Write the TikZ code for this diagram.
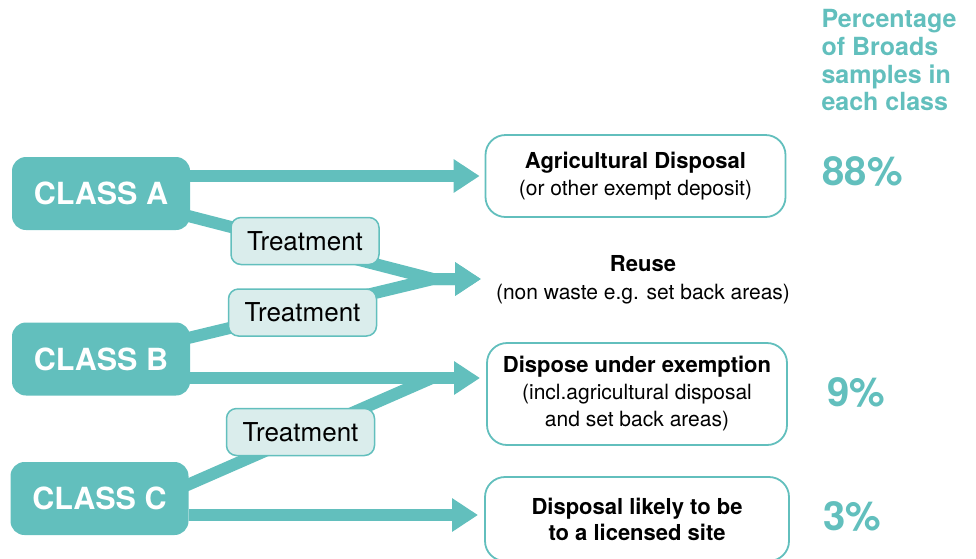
\documentclass[tikz,border=0pt]{standalone}
\usepackage{fontspec}
\setmainfont{TeX Gyre Heros}
\usepackage{xcolor}
\usepackage{tikz}
\usetikzlibrary{arrows.meta}
\usetikzlibrary{calc}
\pgfdeclarelayer{edgelayer}
\pgfdeclarelayer{nodelayer}
\pgfsetlayers{edgelayer,nodelayer,main}
\definecolor{broadsteal}{RGB}{98,191,189}
\definecolor{broadspale}{RGB}{218,237,236}
\newcommand{\bigbold}[1]{{\fontsize{22}{27}\selectfont\bfseries #1}}
\tikzstyle{cls}=[shape=rectangle,rounded corners=14pt,fill=broadsteal,text=white,minimum width=178pt,minimum height=73pt,font=\fontsize{30.5}{34}\selectfont\bfseries]
\tikzstyle{treat}=[shape=rectangle,rounded corners=10pt,draw=broadsteal,line width=1.5pt,fill=broadspale,minimum width=148pt,minimum height=47pt,font=\fontsize{26}{30}\selectfont]
\tikzstyle{dest}=[shape=rectangle,rounded corners=20pt,draw=broadsteal,line width=1.8pt,fill=white,minimum width=300pt,align=center,font=\fontsize{21}{27}\selectfont]
\tikzstyle{plain}=[align=center,font=\fontsize{21}{28}\selectfont]
\tikzstyle{pct}=[anchor=west,text=broadsteal,font=\fontsize{40}{42}\selectfont\bfseries]
\tikzstyle{head}=[anchor=north west,align=left,text=broadsteal,font=\fontsize{25}{27.7}\selectfont\bfseries]
\tikzstyle{flow}=[draw=broadsteal,line width=12pt]
\tikzstyle{flowarrow}=[flow,-{Triangle[length=26pt,width=32pt]}]

\begin{document}
\begin{tikzpicture}[x=1pt,y=-1pt]
	\useasboundingbox (0,0) rectangle (976,558);
	\begin{pgfonlayer}{nodelayer}
		\node [style=cls] (clsA) at (101, 193.5) {CLASS A};
		\node [style=cls] (clsB) at (101, 359) {CLASS B};
		\node [style=cls] (clsC) at (99.5, 498.5) {CLASS C};
		\node [style=treat] (trtA) at (305, 241) {Treatment};
		\node [style=treat] (trtB) at (302.5, 312.5) {Treatment};
		\node [style=treat] (trtC) at (300.5, 432) {Treatment};
		\node [style=dest, minimum height=82pt] (agri) at (635.5, 176) {\bigbold{Agricultural Disposal}\\(or other exempt deposit)};
		\node [style=plain] (reuse) at (643, 280) {\bigbold{Reuse}\\(non waste e.g. set back areas)};
		\node [style=dest, minimum height=102pt] (exempt) at (637, 394) {\bigbold{Dispose under exemption}\\(incl.agricultural disposal\\and set back areas)};
		\node [style=dest, minimum height=84pt, minimum width=304pt, font=\fontsize{22}{26}\selectfont\bfseries] (licensed) at (637, 519) {Disposal likely to be\\to a licensed site};
		\node [style=pct] (pctA) at (819, 171) {88\%};
		\node [style=pct] (pctB) at (824, 392) {9\%};
		\node [style=pct] (pctC) at (820, 516) {3\%};
		\node [style=head] (title) at (818, 6) {Percentage\\of Broads\\samples in\\each class};
		\coordinate (mergeR) at (433, 279);
		\coordinate (tipR) at (481, 279);
		\coordinate (mergeE) at (432, 378);
		\coordinate (tipB) at (480, 378);
		\coordinate (tipC) at (478, 515);
	\end{pgfonlayer}
	\begin{pgfonlayer}{edgelayer}
		\draw [style=flowarrow] (clsA.east |- agri.west) to ([xshift=-5pt]agri.west);
		\draw [style=flowarrow] (clsA.center) -- (mergeR) -- (tipR);
		\draw [style=flowarrow] (clsB.center) -- (mergeR) -- (tipR);
		\draw [style=flowarrow] (clsB.east |- tipB) to (tipB);
		\draw [style=flow] ($(clsC.east)+(-38,2.5)$) -- (mergeE);
		\draw [style=flowarrow] (clsC.east |- tipC) to (tipC);
	\end{pgfonlayer}
\end{tikzpicture}
\end{document}
